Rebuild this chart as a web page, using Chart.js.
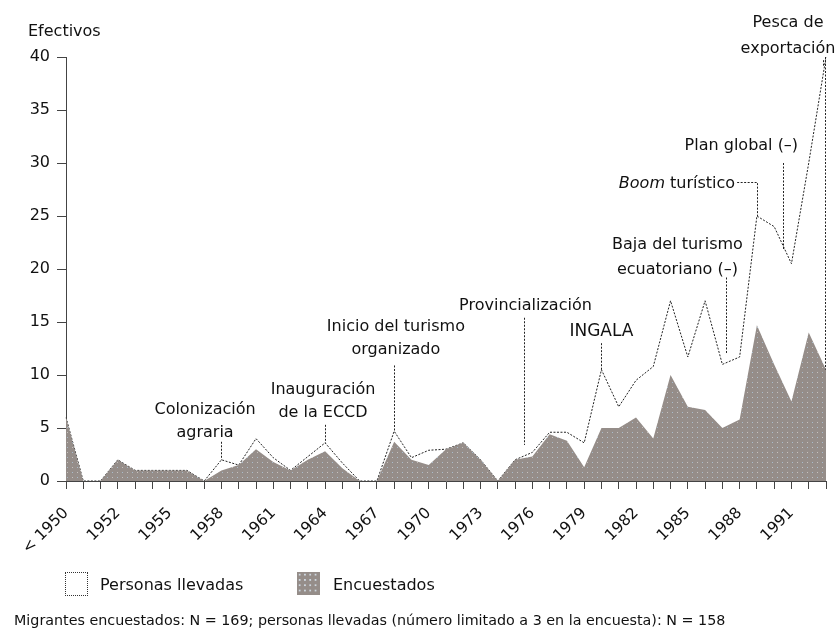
<!DOCTYPE html>
<html><head><meta charset="utf-8">
<script src="https://cdn.jsdelivr.net/npm/chart.js@4.4.1/dist/chart.umd.min.js"></script>
<style>
html,body{margin:0;padding:0;background:#fff;}
#wrap{position:relative;width:838px;height:641px;overflow:hidden;font-family:"DejaVu Sans",sans-serif;color:#111;}
canvas{position:absolute;left:0;top:0;}
.t{position:absolute;white-space:nowrap;font-size:16px;line-height:18px;}
</style></head><body>
<div id="wrap">
<canvas id="c" width="838" height="641"></canvas>
<div class="t" style="left:28px;top:22px;">Efectivos</div>
<div style="position:absolute;left:65px;top:572px;width:21px;height:22px;border:1px dotted #333;background:#fff;"></div>
<div class="t" style="left:100px;top:576px;">Personas llevadas</div>
<div style="position:absolute;left:297px;top:572px;width:23px;height:23px;background-color:#958d89;background-image:radial-gradient(circle,#cdd6de 0.9px,transparent 1.3px);background-size:5.3px 5.3px;"></div>
<div class="t" style="left:333px;top:576px;">Encuestados</div>
<div class="t" style="left:14px;top:611px;font-size:14.3px;">Migrantes encuestados: N = 169; personas llevadas (número limitado a 3 en la encuesta): N = 158</div>
</div>
<script>
const categories = ["< 1950","1950","1951","1952","1953","1954","1955","1956","1957","1958","1959","1960","1961","1962","1963","1964","1965","1966","1967","1968","1969","1970","1971","1972","1973","1974","1975","1976","1977","1978","1979","1980","1981","1982","1983","1984","1985","1986","1987","1988","1989","1990","1991","1992","1993"];
const personasLlevadas = [6,0,0,2,1,1,1,1,0,2,1.5,4,2.2,1,2.3,3.6,1.7,0,0,4.7,2.2,2.9,3,3.6,2,0,2,2.7,4.6,4.6,3.6,10.5,7,9.5,10.8,17,11.7,17,11,11.7,25,24,20.5,30,40];
const encuestados = [6,0,0,2,1,1,1,1,0,1,1.5,3,1.8,1,2,2.8,1.2,0,0,3.7,2,1.5,3,3.6,2,0,2,2.3,4.4,3.8,1.3,5,5,6,4,10,7,6.7,5,5.8,14.7,11,7.5,14,10.5];
const yTickValues = [0,5,10,15,20,25,30,35,40];

// annotation texts anchored in data coordinates (category index, value)
const annotations = [
  {lines:["Colonización","agraria"], x:8.05, y:[6.7,4.5], px:9, py:[3.7,2.0]},
  {lines:["Inauguración","de la ECCD"], x:14.88, y:[8.6,6.4], px:15, py:[5.3,3.6]},
  {lines:["Inicio del turismo","organizado"], x:19.1, y:[14.5,12.4], px:19, py:[10.9,4.7]},
  {lines:["Provincialización"], x:26.6, y:[16.5], px:26.5, py:[15.4,3.4]},
  {lines:["INGALA"], x:31, y:[14.1], px:31, py:[13,10.5], size:17},
  {lines:["Baja del turismo","ecuatoriano (–)"], x:35.4, y:[22.3,19.9], px:38.2, py:[19.2,12]},
  {lines:["Plan global (–)"], x:39.1, y:[31.6], px:41.5, py:[30,21.8]},
  {lines:["Pesca de","exportación"], x:41.8, y:[43.2,40.8], px:43.8, py:[39.7,39.1]}
];
const boom = {italic:"Boom", rest:" turístico", x:38.74, y:28, cx:40, cy:28.2, toY:25};

const FONT = '"DejaVu Sans", sans-serif';
const FS = 16;

function makePattern(){
  const p = document.createElement('canvas');
  p.width = 10; p.height = 10;
  const g = p.getContext('2d');
  g.fillStyle = '#958d89'; g.fillRect(0,0,10,10);
  g.fillStyle = '#a9bccb'; g.fillRect(2,2,1,1); g.fillRect(7,7,1,1);
  g.fillStyle = '#c8c2bf'; g.fillRect(7,2,1,1); g.fillRect(2,7,1,1);
  return document.getElementById('c').getContext('2d').createPattern(p,'repeat');
}

const annotPlugin = {
  id:'annot',
  afterDatasetsDraw(chart){
    const ctx = chart.ctx, xs = chart.scales.x, ys = chart.scales.y;
    const last = categories.length-1;
    ctx.save();
    ctx.strokeStyle = '#222'; ctx.lineWidth = 1; ctx.setLineDash([2,1.5]);
    const lx = Math.round(xs.getPixelForValue(last))-0.5;
    ctx.beginPath();
    ctx.moveTo(lx, ys.getPixelForValue(personasLlevadas[last]));
    ctx.lineTo(lx, ys.getPixelForValue(encuestados[last]));
    ctx.stroke();
    ctx.restore();
  },
  afterDraw(chart){
    const ctx = chart.ctx, xs = chart.scales.x, ys = chart.scales.y;
    ctx.save();
    ctx.fillStyle = '#111';
    ctx.textBaseline = 'middle';
    annotations.forEach(a=>{
      ctx.font = (a.size||FS)+'px '+FONT;
      ctx.textAlign = 'center';
      a.lines.forEach((l,i)=>{
        ctx.fillText(l, xs.getPixelForValue(a.x), ys.getPixelForValue(a.y[i]));
      });
      ctx.strokeStyle = '#222'; ctx.lineWidth = 1; ctx.setLineDash([2,1.5]);
      const px = Math.round(xs.getPixelForValue(a.px))+0.5;
      ctx.beginPath();
      ctx.moveTo(px, ys.getPixelForValue(a.py[0]));
      ctx.lineTo(px, ys.getPixelForValue(a.py[1]));
      ctx.stroke();
      ctx.setLineDash([]);
    });
    // Boom turístico
    ctx.textAlign = 'left';
    ctx.font = FS+'px '+FONT;
    const wRest = ctx.measureText(boom.rest).width;
    ctx.font = 'italic '+FS+'px '+FONT;
    const wIt = ctx.measureText(boom.italic).width;
    const right = xs.getPixelForValue(boom.x);
    const by = ys.getPixelForValue(boom.y);
    ctx.fillText(boom.italic, right - wRest - wIt, by);
    ctx.font = FS+'px '+FONT;
    ctx.fillText(boom.rest, right - wRest, by);
    ctx.strokeStyle = '#222'; ctx.setLineDash([2,1.5]);
    const cy = Math.round(ys.getPixelForValue(boom.cy))+0.5;
    const cx = Math.round(xs.getPixelForValue(boom.cx))+0.5;
    ctx.beginPath();
    ctx.moveTo(right+2, cy);
    ctx.lineTo(cx, cy);
    ctx.lineTo(cx, ys.getPixelForValue(boom.toY));
    ctx.stroke();
    ctx.restore();
  }
};

new Chart(document.getElementById('c'), {
  type:'line',
  data:{
    labels: categories,
    datasets:[
      {label:'Encuestados', data:encuestados, backgroundColor:makePattern(), borderColor:'rgba(0,0,0,0)', borderWidth:0, fill:'origin', pointRadius:0, tension:0, order:1},
      {label:'Personas llevadas', data:personasLlevadas, backgroundColor:'#ffffff', borderColor:'#222', borderWidth:1, borderDash:[2,1.5], fill:'origin', pointRadius:0, tension:0, order:2}
    ]
  },
  options:{
    responsive:false, animation:false, devicePixelRatio:1,
    layout:{padding:{left:0, right:12, top:57, bottom:0}},
    plugins:{legend:{display:false}, tooltip:{enabled:false}},
    scales:{
      x:{
        offset:false,
        grid:{drawOnChartArea:false, drawTicks:true, tickLength:8, color:'#444'},
        border:{display:true, color:'#444', dash:[2,1.5]},
        ticks:{autoSkip:false, minRotation:45, maxRotation:45, padding:15, color:'#111', font:{family:FONT, size:15.5},
          callback:(v,i)=> i%3===0 ? categories[i] : ''},
        afterFit(s){ s.height = 160; s.paddingLeft = 0; s.paddingRight = 0; }
      },
      y:{
        min:0, max:40,
        afterBuildTicks(s){ s.ticks = yTickValues.map(v=>({value:v})); },
        grid:{drawOnChartArea:false, drawTicks:true, tickLength:9, color:'#444'},
        border:{display:true, color:'#444', dash:[2,1.5]},
        ticks:{padding:7, color:'#111', font:{family:FONT, size:16}},
        afterFit(s){ s.width = 66; }
      }
    }
  },
  plugins:[annotPlugin]
});
</script>
</body></html>
